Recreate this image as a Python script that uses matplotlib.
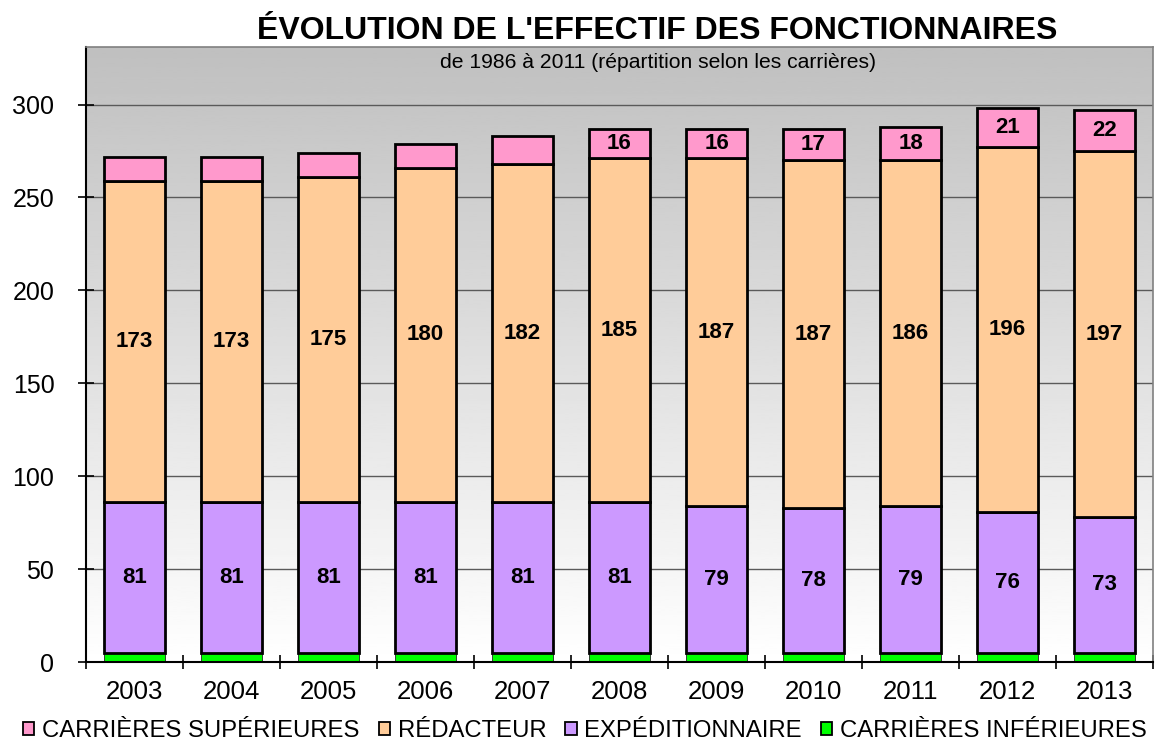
import matplotlib
matplotlib.use("Agg")
import matplotlib.pyplot as plt
import numpy as np
from matplotlib.patches import Patch

plt.rcParams['font.family'] = ['Liberation Sans', 'DejaVu Sans']

years = ['2003', '2004', '2005', '2006', '2007', '2008', '2009', '2010', '2011', '2012', '2013']
inferieures = [5, 5, 5, 5, 5, 5, 5, 5, 5, 5, 5]
expeditionnaire = [81, 81, 81, 81, 81, 81, 79, 78, 79, 76, 73]
redacteur = [173, 173, 175, 180, 182, 185, 187, 187, 186, 196, 197]
superieures = [13, 13, 13, 13, 15, 16, 16, 17, 18, 21, 22]
# les petites valeurs (avant 2008) ne sont pas affichees sur le graphique
show_sup = [False] * 5 + [True] * 6

names = ['CARRIÈRES SUPÉRIEURES', 'RÉDACTEUR', 'EXPÉDITIONNAIRE', 'CARRIÈRES INFÉRIEURES']
colors = ['#FF99CC', '#FFCC99', '#CC99FF', '#00FF00']

fig = plt.figure(figsize=(11.63, 7.4), dpi=100)
ax = fig.add_axes([86 / 1163, 78 / 740, 1067 / 1163, 615 / 740])

x = np.arange(len(years))
w = 0.63

# fond degrade gris -> blanc
grad = np.linspace(0.75, 1.0, 256).reshape(-1, 1)
ax.imshow(grad, cmap='gray', vmin=0, vmax=1, aspect='auto',
          extent=[0, 1, 0, 1], transform=ax.transAxes, zorder=0)

ax.set_xlim(-0.5, len(years) - 0.5)
ax.set_ylim(0, 331)

for yv in range(50, 301, 50):
    ax.axhline(yv, color='#5a5a5a', lw=1.0, zorder=1)

b0 = np.array(inferieures)
b1 = b0 + np.array(expeditionnaire)
b2 = b1 + np.array(redacteur)

ax.bar(x, inferieures, w, color=colors[3], edgecolor='#222222', lw=0.6, zorder=2)
ax.bar(x, expeditionnaire, w, bottom=b0, color=colors[2], edgecolor='black', lw=2, zorder=3)
ax.bar(x, redacteur, w, bottom=b1, color=colors[1], edgecolor='black', lw=2, zorder=3)
ax.bar(x, superieures, w, bottom=b2, color=colors[0], edgecolor='black', lw=2, zorder=3)

for i in range(len(years)):
    ax.text(x[i], b0[i] + expeditionnaire[i] / 2, str(expeditionnaire[i]),
            ha='center', va='center', fontsize=16, fontweight='bold', zorder=4)
    ax.text(x[i], b1[i] + redacteur[i] / 2, str(redacteur[i]),
            ha='center', va='center', fontsize=16, fontweight='bold', zorder=4)
    if show_sup[i]:
        ax.text(x[i], b2[i] + superieures[i] / 2, str(superieures[i]),
                ha='center', va='center', fontsize=16, fontweight='bold', zorder=4)

ax.set_yticks(range(0, 301, 50))
ax.tick_params(axis='y', labelsize=18, direction='inout', length=11.5, width=1.2, pad=17)
ax.set_xticks(x)
ax.set_xticklabels(years)
ax.tick_params(axis='x', which='major', length=0, labelsize=18.5, pad=13)
ax.set_xticks(np.arange(-0.5, len(years), 1), minor=True)
ax.tick_params(axis='x', which='minor', direction='inout', length=10, width=1.2)

for s in ['left', 'bottom']:
    ax.spines[s].set_linewidth(1.5)
    ax.spines[s].set_color('black')
for s in ['top', 'right']:
    ax.spines[s].set_color('#808080')
    ax.spines[s].set_linewidth(1.2)

fig.text(0.565, 0.958, "ÉVOLUTION DE L'EFFECTIF DES FONCTIONNAIRES",
         ha='center', va='center', fontsize=23, fontweight='bold')
fig.text(0.5655, 0.916, "de 1986 à 2011 (répartition selon les carrières)",
         ha='center', va='center', fontsize=15.2)

handles = [Patch(facecolor=c, edgecolor='black', lw=1.3) for c in colors]
fig.legend(handles, names, loc='center', bbox_to_anchor=(0.503, 0.012),
           ncol=4, frameon=False, fontsize=17.2, handlelength=0.47, handleheight=0.47,
           handletextpad=0.33, columnspacing=0.8, borderpad=0, borderaxespad=0)

fig.savefig('out.png', dpi=100)
